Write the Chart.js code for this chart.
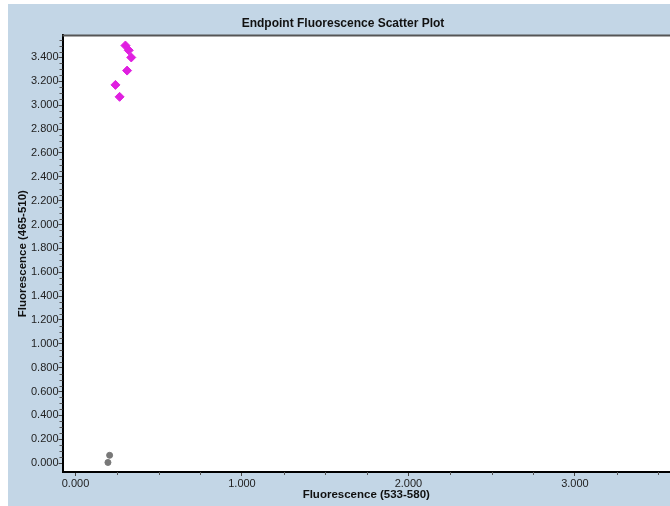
<!DOCTYPE html>
<html>
<head>
<meta charset="utf-8">
<script src="https://cdn.jsdelivr.net/npm/chart.js@4/dist/chart.umd.min.js"></script>
<style>
  html, body { margin: 0; padding: 0; background: #fff; }
  canvas { display: block; }
</style>
</head>
<body>
<canvas id="chart" width="670" height="506"></canvas>
<script>
// values
const posX = [0.30, 0.32, 0.335, 0.31, 0.24, 0.265];
const posY = [3.50, 3.46, 3.40, 3.29, 3.17, 3.07];
const negX = [0.195, 0.205];
const negY = [0.005, 0.065];

const xMajor = [0, 1, 2, 3];
const yMajor = [0, 0.2, 0.4, 0.6, 0.8, 1.0, 1.2, 1.4, 1.6, 1.8, 2.0, 2.2, 2.4, 2.6, 2.8, 3.0, 3.2, 3.4];

const bg = '#c3d6e6';
const font = 'Arial, "Liberation Sans", sans-serif';

// background + top border + minor ticks
const frame = {
  id: 'frame',
  beforeDraw(chart) {
    const { ctx, chartArea: a, width, height } = chart;
    ctx.save();
    ctx.fillStyle = '#fff';
    ctx.fillRect(0, 0, width, height);
    ctx.fillStyle = bg;
    ctx.fillRect(8, 4, width - 8, height - 4);
    ctx.fillStyle = '#fff';
    ctx.fillRect(a.left, a.top, a.right - a.left, a.bottom - a.top);
    ctx.restore();
  },
  afterDraw(chart) {
    const { ctx, chartArea: a } = chart;
    const x = chart.scales.x, y = chart.scales.y;
    ctx.save();
    ctx.strokeStyle = '#555';
    ctx.lineWidth = 2;
    ctx.beginPath();
    ctx.moveTo(a.left, a.top);
    ctx.lineTo(a.right, a.top);
    ctx.stroke();

    ctx.strokeStyle = '#555';
    ctx.lineWidth = 1;
    ctx.beginPath();
    for (let v = 0.25; v < x.max; v += 0.25) {
      if (Math.abs(v - Math.round(v)) < 1e-6) continue;
      const px = Math.round(x.getPixelForValue(v)) + 0.5;
      ctx.moveTo(px, a.bottom);
      ctx.lineTo(px, a.bottom + 3);
    }
    for (let i = 1; i * 0.05 < y.max; i++) {
      if (i % 4 === 0) continue;
      const py = Math.round(y.getPixelForValue(i * 0.05)) + 0.5;
      ctx.moveTo(a.left, py);
      ctx.lineTo(a.left - 3, py);
    }
    ctx.stroke();
    ctx.restore();
  }
};

new Chart(document.getElementById('chart'), {
  type: 'scatter',
  data: {
    datasets: [
      {
        label: 'Negative',
        data: negX.map((v, i) => ({ x: v, y: negY[i] })),
        backgroundColor: '#787878',
        borderColor: '#787878',
        pointStyle: 'circle',
        pointRadius: 3
      },
      {
        label: 'Positive',
        data: posX.map((v, i) => ({ x: v, y: posY[i] })),
        backgroundColor: '#e020e0',
        borderColor: '#e020e0',
        pointStyle: 'rectRot',
        pointRadius: 4.5
      }
    ]
  },
  options: {
    responsive: false,
    animation: false,
    layout: { autoPadding: false, padding: { left: 16, right: 0, top: 0, bottom: 0 } },
    scales: {
      x: {
        type: 'linear',
        min: -0.078,
        max: 3.571,
        afterFit: s => { s.height = 34; },
        afterBuildTicks: s => { s.ticks = xMajor.map(v => ({ value: v })); },
        ticks: {
          callback: v => v.toFixed(3),
          color: '#222',
          font: { family: font, size: 11 },
          padding: 1,
          maxRotation: 0
        },
        grid: { drawOnChartArea: false, drawTicks: true, tickLength: 4, color: '#444' },
        border: { display: true, color: '#000', width: 2 },
        title: {
          display: true,
          text: 'Fluorescence (533-580)',
          color: '#111',
          font: { family: font, size: 11.5, weight: 'bold' },
          padding: { top: 0, bottom: 4 }
        }
      },
      y: {
        type: 'linear',
        min: -0.075,
        max: 3.585,
        afterFit: s => { s.width = 46.5; },
        afterBuildTicks: s => { s.ticks = yMajor.map(v => ({ value: v })); },
        ticks: {
          callback: v => v.toFixed(3),
          color: '#222',
          font: { family: font, size: 11 },
          padding: 0
        },
        grid: { drawOnChartArea: false, drawTicks: true, tickLength: 4, color: '#444' },
        border: { display: true, color: '#000', width: 2 },
        title: {
          display: true,
          text: 'Fluorescence (465-510)',
          color: '#111',
          font: { family: font, size: 11.5, weight: 'bold' },
          padding: { top: 0, bottom: 0 }
        }
      }
    },
    plugins: {
      legend: { display: false },
      tooltip: { enabled: false },
      title: {
        display: true,
        text: 'Endpoint Fluorescence Scatter Plot',
        color: '#111',
        font: { family: font, size: 12, weight: 'bold' },
        padding: { top: 16, bottom: 5 }
      }
    }
  },
  plugins: [frame]
});
</script>
</body>
</html>
